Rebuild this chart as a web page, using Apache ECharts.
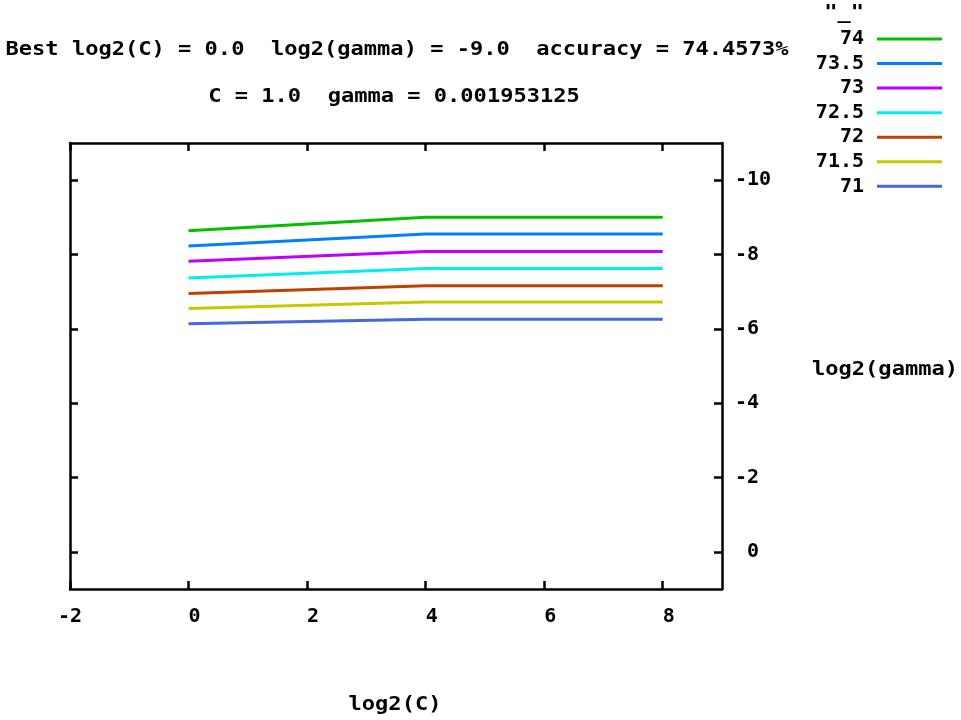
<!DOCTYPE html>
<html>
<head>
<meta charset="utf-8">
<script src="https://cdn.jsdelivr.net/npm/echarts@6/dist/echarts.min.js"></script>
<style>html,body{margin:0;padding:0;background:#fff;}#c{width:961px;height:720px;}</style>
</head>
<body>
<div id="c"></div>
<script>
// contour levels (accuracy %) and their log2(gamma) values along log2(C)
const levels = ['74', '73.5', '73', '72.5', '72', '71.5', '71'];
const log2C = [0, 4, 8];
const gammaAt0 = [-8.64, -8.23, -7.82, -7.37, -6.95, -6.55, -6.14];
const gammaAt4 = [-9.0, -8.55, -8.08, -7.62, -7.16, -6.72, -6.26];
const gammaAt8 = [-9.0, -8.55, -8.08, -7.62, -7.16, -6.72, -6.26];
const colors = ['#00c000', '#0080ff', '#c000ff', '#00eeee', '#c04000', '#c8c800', '#4169e1'];
const xTicks = [-2, 0, 2, 4, 6, 8];
const yTicks = [-10, -8, -6, -4, -2, 0];
const titleLine1 = 'Best log2(C) = 0.0  log2(gamma) = -9.0  accuracy = 74.4573%';
const titleLine2 = 'C = 1.0  gamma = 0.001953125';

const FONT = '"DejaVu Sans Mono", "Liberation Mono", monospace';
const fmt = v => (v >= 0 ? ' ' + v : String(v));

const series = levels.map((name, i) => ({
  name: name,
  type: 'line',
  xAxisIndex: 0,
  yAxisIndex: 0,
  showSymbol: false,
  symbol: 'none',
  animation: false,
  lineStyle: { color: colors[i], width: 3 },
  itemStyle: { color: colors[i] },
  data: [[log2C[0], gammaAt0[i]], [log2C[1], gammaAt4[i]], [log2C[2], gammaAt8[i]]]
}));

function axisBase(extra) {
  return Object.assign({
    type: 'value',
    axisLine: { show: true, onZero: false, lineStyle: { color: '#000', width: 2.5 } },
    axisTick: { show: true, inside: true, length: 8, lineStyle: { color: '#000', width: 2.5 } },
    splitLine: { show: false }
  }, extra);
}

const txt = (text, x, y, align, sx) => ({
  type: 'text', x: x, y: y, scaleX: sx || 1.16, scaleY: 1,
  style: { text: text, font: 'bold 19px ' + FONT, fill: '#000', align: align || 'center', verticalAlign: 'middle' }
});

const chart = echarts.init(document.getElementById('c'));
chart.setOption({
  animation: false,
  backgroundColor: '#fff',
  grid: { left: 70, right: 239, top: 143, bottom: 131 },
  xAxis: [
    axisBase({
      position: 'bottom', min: -2, max: 9,
      axisLabel: { customValues: xTicks, formatter: fmt, margin: 18, color: '#000', fontFamily: FONT, fontWeight: 'bold', fontSize: 20 },
      axisTick: { show: true, inside: true, length: 8, customValues: xTicks, lineStyle: { color: '#000', width: 2.5 } }
    }),
    axisBase({
      position: 'top', min: -2, max: 9,
      axisLabel: { show: false },
      axisTick: { show: true, inside: true, length: 8, customValues: xTicks, lineStyle: { color: '#000', width: 2.5 } }
    })
  ],
  yAxis: [
    axisBase({
      position: 'right', min: -11, max: 1, inverse: true,
      axisLabel: { customValues: yTicks, formatter: fmt, margin: 13, color: '#000', fontFamily: FONT, fontWeight: 'bold', fontSize: 20 },
      axisTick: { show: true, inside: true, length: 8, customValues: yTicks, lineStyle: { color: '#000', width: 2.5 } }
    }),
    axisBase({
      position: 'left', min: -11, max: 1, inverse: true,
      axisLabel: { show: false },
      axisTick: { show: true, inside: true, length: 8, customValues: yTicks, lineStyle: { color: '#000', width: 2.5 } }
    })
  ],
  legend: {
    orient: 'vertical',
    align: 'right',
    right: 19,
    top: 29,
    padding: 0,
    icon: 'rect',
    itemWidth: 65,
    itemHeight: 3,
    itemGap: 4.55,
    selectedMode: false,
    data: levels,
    textStyle: { color: '#000', fontFamily: FONT, fontWeight: 'bold', fontSize: 20, lineHeight: 20, padding: [0, 8, 0, 0] }
  },
  graphic: [
    txt(titleLine1, 397, 50),
    txt(titleLine2, 394, 97),
    txt('"_"', 864, 13, 'right'),
    txt('log2(C)', 395, 705),
    txt('log2(gamma)', 885, 370)
  ],
  series: series
});
</script>
</body>
</html>
